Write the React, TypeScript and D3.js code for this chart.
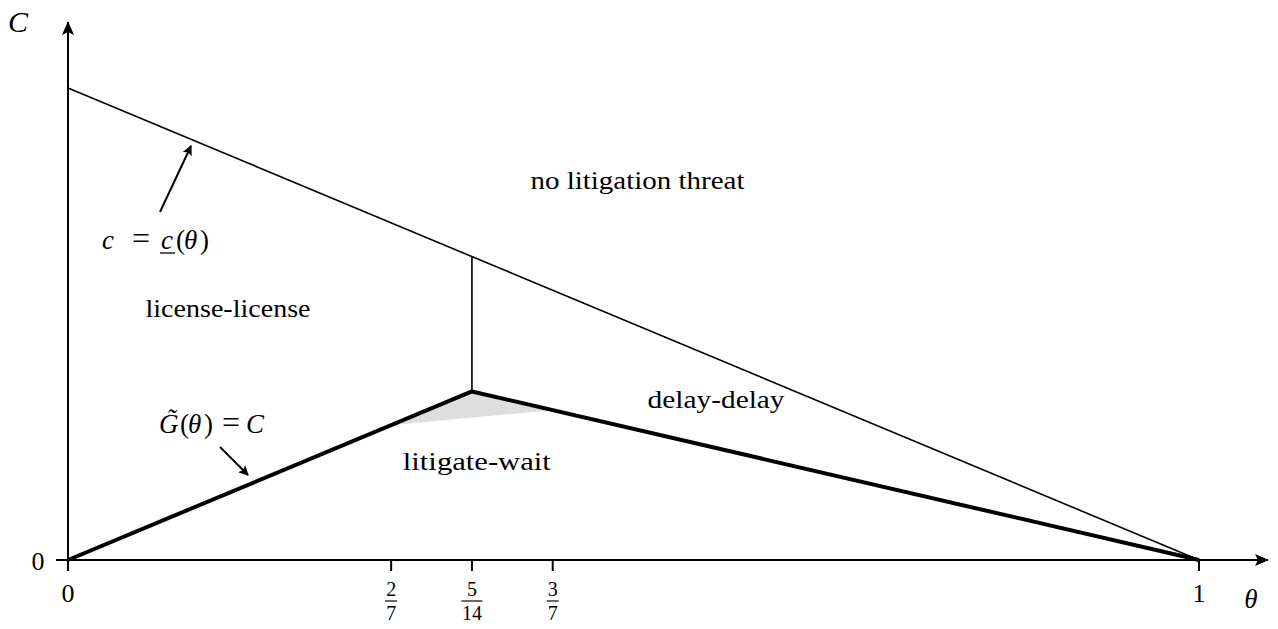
import React from "react";
import * as d3 from "d3";

const W = 1278;
const H = 629;

// data
const xTicks = [0, 2 / 7, 5 / 14, 3 / 7, 1];
const xTickLabels: (string | [string, string])[] = ["0", ["2", "7"], ["5", "14"], ["3", "7"], "1"];
const upperBound: [number, number][] = [[0, 1], [1, 0]];
const gCurve: [number, number][] = [[0, 0], [5 / 14, 5 / 14], [1, 0]];
const divider: [number, number][] = [[5 / 14, 5 / 14], [5 / 14, 9 / 14]];
const shaded: [number, number][] = [[2 / 7, 2 / 7], [5 / 14, 5 / 14], [3 / 7, 20 / 63]];

const regionLabels = [
  { text: "no litigation threat", x: 0.5035, y: 0.786, w: 214 },
  { text: "license-license", x: 0.1415, y: 0.515, w: 165 },
  { text: "delay-delay", x: 0.573, y: 0.322, w: 137 },
  { text: "litigate-wait", x: 0.3615, y: 0.19, w: 148 },
];

export default function App() {
  const x = d3.scaleLinear().domain([0, 1]).range([68, 1199]);
  const y = d3.scaleLinear().domain([0, 1]).range([560, 88]);
  const line = d3.line<[number, number]>().x((d) => x(d[0])).y((d) => y(d[1]));
  const font = "'Liberation Serif', 'DejaVu Serif', serif";
  const x0 = x(0), y0 = y(0);

  return (
    <svg width={W} height={H} style={{ position: "absolute", left: 0, top: 0, background: "#fff" }} fontFamily={font}>
      <defs>
        <marker id="ah" viewBox="0 0 10 10" refX="9" refY="5" markerWidth="10" markerHeight="10" markerUnits="userSpaceOnUse" orient="auto">
          <path d="M0,0 L10,5 L0,10 L2,5 z" fill="#000" />
        </marker>
        <marker id="axh" viewBox="0 0 14 12" refX="13" refY="6" markerWidth="14" markerHeight="12" markerUnits="userSpaceOnUse" orient="auto">
          <path d="M0,0 L14,6 L0,12 L3,6 z" fill="#000" />
        </marker>
      </defs>
      <path d={line(shaded) + "Z"} fill="#dedede" stroke="none" />
      <line x1={x0} y1={y0} x2={1268} y2={y0} stroke="#000" strokeWidth={2} markerEnd="url(#axh)" />
      <line x1={x0} y1={y0} x2={x0} y2={22} stroke="#000" strokeWidth={2} markerEnd="url(#axh)" />
      {xTicks.map((t, i) => (
        <line key={i} x1={x(t)} x2={x(t)} y1={y0} y2={y0 + 11} stroke="#000" strokeWidth={2} />
      ))}
      <line x1={x0 - 12} x2={x0} y1={y0} y2={y0} stroke="#000" strokeWidth={2} />
      {xTicks.map((t, i) => {
        const lab = xTickLabels[i];
        if (typeof lab === "string") {
          return (
            <text key={i} x={x(t)} y={602} fontSize={26} textAnchor="middle">{lab}</text>
          );
        }
        const bw = lab[1].length > 1 ? 21 : 12;
        return (
          <g key={i}>
            <text x={x(t)} y={596} fontSize={20} textAnchor="middle">{lab[0]}</text>
            <line x1={x(t) - bw / 2} x2={x(t) + bw / 2} y1={601} y2={601} stroke="#000" strokeWidth={1.2} />
            <text x={x(t)} y={620} fontSize={20} textAnchor="middle">{lab[1]}</text>
          </g>
        );
      })}
      <text x={38} y={570} fontSize={26} textAnchor="middle">0</text>
      <text x={1251} y={608} fontSize={27} fontStyle="italic" textAnchor="middle">θ</text>
      <text x={18} y={32} fontSize={30} fontStyle="italic" textAnchor="middle">C</text>
      <path d={line(upperBound) || ""} fill="none" stroke="#000" strokeWidth={1.6} />
      <path d={line(divider) || ""} fill="none" stroke="#000" strokeWidth={1.6} />
      <path d={line(gCurve) || ""} fill="none" stroke="#000" strokeWidth={4} strokeLinejoin="round" />
      {regionLabels.map((r, i) => (
        <text key={i} x={x(r.x) - r.w / 2} y={y(r.y)} fontSize={25} textLength={r.w} lengthAdjust="spacingAndGlyphs">{r.text}</text>
      ))}
      {/* annotation c = c(θ) */}
      <line x1={160} y1={212} x2={191} y2={146} stroke="#000" strokeWidth={2} markerEnd="url(#ah)" />
      <g fontSize={27}>
        <text x={102} y={249} fontStyle="italic">c</text>
        <text x={141} y={249} textAnchor="middle" fontSize={32}>=</text>
        <text x={161} y={249} fontStyle="italic">c</text>
        <text x={176} y={249}>(</text>
        <text x={184} y={249} fontStyle="italic">θ</text>
        <text x={200} y={249}>)</text>
      </g>
      <line x1={160} x2={175} y1={253} y2={253} stroke="#000" strokeWidth={1.3} />
      {/* annotation G(θ) = C */}
      <line x1={220} y1={447} x2={248} y2={475} stroke="#000" strokeWidth={2} markerEnd="url(#ah)" />
      <g fontSize={27}>
        <text x={159} y={433} fontStyle="italic">G̃</text>
        <text x={180} y={433}>(</text>
        <text x={188} y={433} fontStyle="italic">θ</text>
        <text x={204} y={433}>)</text>
        <text x={231} y={433} textAnchor="middle" fontSize={32}>=</text>
        <text x={246} y={433} fontStyle="italic">C</text>
      </g>
    </svg>
  );
}
